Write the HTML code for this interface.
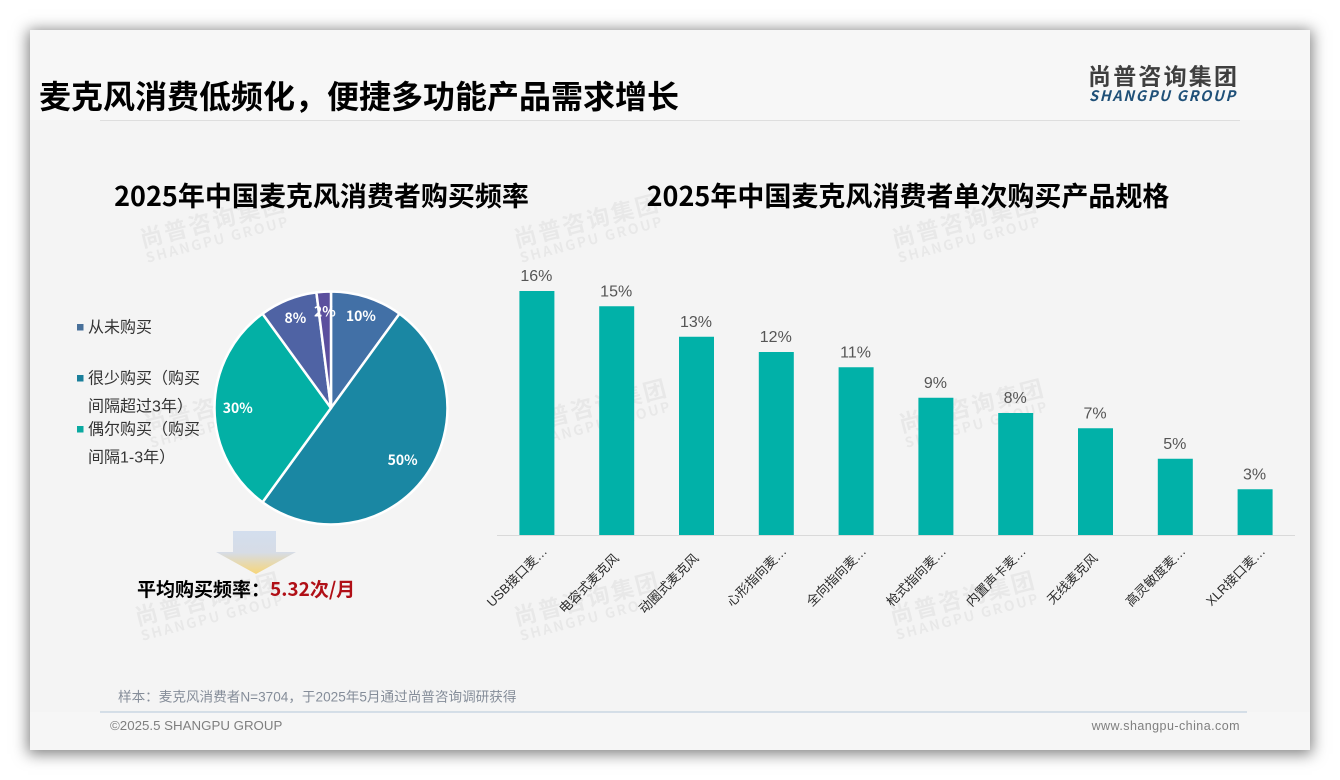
<!DOCTYPE html>
<html lang="zh-CN">
<head>
<meta charset="utf-8">
<title>麦克风消费低频化</title>
<style>
html,body{margin:0;padding:0;background:#fff;width:1340px;height:780px;overflow:hidden}
svg{display:block;position:absolute;left:0;top:0;z-index:2}
#slide{position:absolute;left:30px;top:30px;width:1280px;height:720px;background:#f4f4f4;box-shadow:0 2px 14px 2px rgba(0,0,0,.5);z-index:1}
text{font-family:"Liberation Sans","Noto Sans CJK SC",sans-serif}
.bold{font-family:"Noto Sans CJK SC","Liberation Sans",sans-serif;font-weight:700}
</style>
</head>
<body>
<div id="slide"></div>
<svg id="chart" width="1340" height="780" viewBox="0 0 1340 780" xmlns="http://www.w3.org/2000/svg">
<defs>
<linearGradient id="arrowGrad" x1="0" y1="0" x2="0" y2="1">
<stop offset="0" stop-color="#d3deee"/>
<stop offset="0.5" stop-color="#d6dce6"/>
<stop offset="1" stop-color="#f7d679"/>
</linearGradient>
</defs>
<rect x="30" y="30" width="1280" height="90" fill="#f7f7f7"/>
<rect x="30" y="712" width="1280" height="38" fill="#f6f6f6"/>
<g id="watermarks"></g>

<text x="39" y="108" class="bold" font-size="32" fill="#000">麦克风消费低频化，便捷多功能产品需求增长</text>
<line x1="100" y1="120.5" x2="1240" y2="120.5" stroke="#dedede"/>

<text x="1088" y="84.5" class="bold" font-size="23" letter-spacing="2.2" fill="#3f3f3f">尚普咨询集团</text>
<text x="1089" y="101" class="bold" font-size="14.5" font-style="italic" letter-spacing="1.65" fill="#1f5078">SHANGPU GROUP</text>

<text x="321.5" y="206" text-anchor="middle" class="bold" font-size="27" fill="#000">2025年中国麦克风消费者购买频率</text>
<text x="908" y="206" text-anchor="middle" class="bold" font-size="27" fill="#000">2025年中国麦克风消费者单次购买产品规格</text>

<g id="pie"></g>
<g id="legend"></g>

<g>
<polygon points="233,531 276,531 276,552 296,552 256,574 216,552 233,552" fill="url(#arrowGrad)"/>
</g>
<text x="137" y="596" class="bold" font-size="19" fill="#000">平均购买频率：<tspan fill="#b00f16">5.32次/月</tspan></text>

<g id="bars"></g>
<line x1="497" y1="535.5" x2="1295" y2="535.5" stroke="#d9d9d9"/>

<text x="118" y="701.5" font-size="13.6" fill="#858d99">样本：麦克风消费者N=3704，于2025年5月通过尚普咨询调研获得</text>
<line x1="100" y1="712" x2="1247" y2="712" stroke="#b4c7d9"/>
<text x="110" y="730" font-size="13.3" fill="#7f7f7f">©2025.5 SHANGPU GROUP</text>
<text x="1240" y="730" text-anchor="end" font-size="12.5" letter-spacing="0.45" fill="#7f7f7f">www.shangpu-china.com</text>
</svg>
<script>
var pieCategories = ['从未购买', '很少购买（购买间隔超过3年）', '偶尔购买（购买间隔1-3年）', '经常购买', '频繁购买'];
var pieValues = [10, 50, 30, 8, 2];
var pieColors = ['#4270a6', '#1a87a3', '#03b0a5', '#4f63a4', '#5b4f9e'];
var legendLines = [['从未购买'], ['很少购买（购买', '间隔超过3年）'], ['偶尔购买（购买', '间隔1-3年）']];
var barCategories = ['USB接口麦…', '电容式麦克风', '动圈式麦克风', '心形指向麦…', '全向指向麦…', '枪式指向麦…', '内置声卡麦…', '无线麦克风', '高灵敏度麦…', 'XLR接口麦…'];
var barValues = [16, 15, 13, 12, 11, 9, 8, 7, 5, 3];

var NS = 'http://www.w3.org/2000/svg';
function make(tag, parent, attrs, txt) {
  var el = document.createElementNS(NS, tag);
  for (var k in attrs) el.setAttribute(k, attrs[k]);
  if (txt !== undefined) el.textContent = txt;
  parent.appendChild(el);
  return el;
}

/* pie */
var cx = 331, cy = 408, R = 116.5;
var total = pieValues.reduce(function (a, b) { return a + b; }, 0);
function angleOf(v) { return v / total * Math.PI * 2; }
function px(a, r) { return cx + Math.sin(a) * r; }
function py(a, r) { return cy - Math.cos(a) * r; }
function labelRadius(v) { return v <= 10 ? R * 0.83 : v <= 30 ? R * 0.8 : R * 0.76; }
var pieG = document.getElementById('pie');
var acc = 0;
pieValues.forEach(function (v, i) {
  var a0 = angleOf(acc), a1 = angleOf(acc + v);
  var d = 'M' + cx + ' ' + cy + 'L' + px(a0, R) + ' ' + py(a0, R) + 'A' + R + ' ' + R + ' 0 ' + (a1 - a0 > Math.PI ? 1 : 0) + ' 1 ' + px(a1, R) + ' ' + py(a1, R) + 'Z';
  var s = make('path', pieG, { d: d, fill: pieColors[i], stroke: '#fff', 'stroke-width': 2.5, 'stroke-linejoin': 'round' });
  
  
  acc += v;
});
acc = 0;
pieValues.forEach(function (v, i) {
  var m = angleOf(acc + v / 2);
  var lr = labelRadius(v);
  var t = make('text', pieG, { x: px(m, lr), y: py(m, lr) + 5, 'text-anchor': 'middle', 'font-size': 14, fill: '#fff', 'class': 'bold' }, v + '%');
  
  
  acc += v;
});

/* legend */
var legendG = document.getElementById('legend');
var legendTops = 327;
legendLines.forEach(function (lines, i) {
  var y = legendTops + [0, 51, 102][i];
  var b = make('rect', legendG, { x: 77, y: y - 3, width: 6.5, height: 6.5, fill: ['#48709a', '#1a7f9b', '#0aa9a0'][i] });
  
  
  lines.forEach(function (line, j) {
    var t = make('text', legendG, { x: 88, y: y + 5.5 + j * 28, 'font-size': 16, fill: '#333' }, line);
    
    
  });
});

/* bars */
var barsG = document.getElementById('bars');
var x0 = 497, x1 = 1295, baseY = 535, unit = 15.25, barW = 35;
var step = (x1 - x0) / barCategories.length;
function xScale(i) { return x0 + step * (i + 0.5); }
function yScale(v) { return baseY - v * unit; }
barValues.forEach(function (v, i) {
  var cxb = xScale(i);
  var r = make('rect', barsG, { x: cxb - barW / 2, y: yScale(v), width: barW, height: baseY - yScale(v), fill: '#01b1a8' });
  
  
  var l = make('text', barsG, { x: cxb - 0.5, y: yScale(v) - 10, 'text-anchor': 'middle', 'font-size': 16, fill: '#555' }, v + '%');
  
  
  var label = barCategories[i];
  var clipped = label.charAt(label.length - 1) === '…';
  var ax = cxb + (clipped ? 11 : 3), ay = clipped ? 552 : 559;
  var c = make('text', barsG, { x: ax, y: ay, 'text-anchor': 'end', 'font-size': 13, fill: '#2b2b2b', transform: 'rotate(-45 ' + ax + ' ' + ay + ')' }, label);
  
  
});

/* watermarks */
var wmG = document.getElementById('watermarks');
[[214, 225], [588, 225], [966, 225], [218, 410], [596, 410], [973, 410], [209, 603], [588, 603], [964, 602]].forEach(function (p, i) {
  var g = make('g', wmG, { transform: 'rotate(-14.5 ' + p[0] + ' ' + p[1] + ')', fill: '#000', opacity: '0.045' });
  
  
  var a = make('text', g, { x: p[0], y: p[1] + 4, 'text-anchor': 'middle', 'font-size': 23, 'letter-spacing': 2, 'class': 'bold' }, '尚普咨询集团');
  
  
  var e = make('text', g, { x: p[0], y: p[1] + 20, 'text-anchor': 'middle', 'font-size': 14, 'letter-spacing': 2, 'class': 'bold' }, 'SHANGPU GROUP');
  
  
});
</script>
</body>
</html>
